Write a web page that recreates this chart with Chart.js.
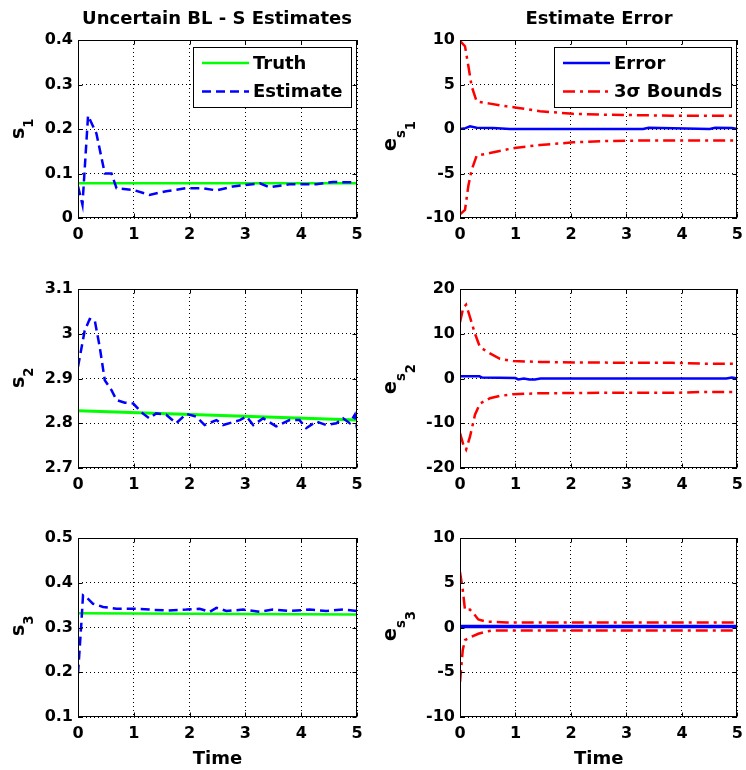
<!DOCTYPE html>
<html>
<head>
<meta charset="utf-8">
<script src="https://cdn.jsdelivr.net/npm/chart.js@4.4.1/dist/chart.umd.min.js"></script>
<style>
  body { margin: 0; background: #fff; }
  #fig { position: relative; width: 746px; height: 770px; overflow: hidden; font-family: "DejaVu Sans", sans-serif; font-weight: bold; color: #000; }
  canvas { position: absolute; }
  .ttl { position: absolute; font-size: 18px; white-space: nowrap; transform: translate(-50%, -50%); }
  .ylab { position: absolute; font-size: 19px; line-height: 19px; white-space: nowrap; transform-origin: 0 0; transform: rotate(-90deg); }
  .ylab sub { font-size: 0.7em; vertical-align: -0.7em; line-height: 0; }
  .ylab sub sub { font-size: 1em; vertical-align: -0.75em; }
</style>
</head>
<body>
<div id="fig">
  <canvas id="c1" width="373" height="250" style="left:0;top:0"></canvas>
  <canvas id="c2" width="377" height="250" style="left:373px;top:0"></canvas>
  <canvas id="c3" width="373" height="240" style="left:0;top:250px"></canvas>
  <canvas id="c4" width="377" height="240" style="left:373px;top:250px"></canvas>
  <canvas id="c5" width="373" height="280" style="left:0;top:490px"></canvas>
  <canvas id="c6" width="377" height="280" style="left:373px;top:490px"></canvas>

  <div class="ttl" style="left:217px;top:17px">Uncertain BL - S Estimates</div>
  <div class="ttl" style="left:599px;top:17px">Estimate Error</div>

  <div class="ylab" style="left:8px;top:139px">s<sub>1</sub></div>
  <div class="ylab" style="left:8px;top:388px">s<sub>2</sub></div>
  <div class="ylab" style="left:8px;top:636px">s<sub>3</sub></div>
  <div class="ylab" style="left:380px;top:151px">e<sub>s<sub>1</sub></sub></div>
  <div class="ylab" style="left:380px;top:394px">e<sub>s<sub>2</sub></sub></div>
  <div class="ylab" style="left:380px;top:641px">e<sub>s<sub>3</sub></sub></div>
</div>
<script>
// ---- values ----
const xTicks = [0, 1, 2, 3, 4, 5];
const s1Ticks = [0, 0.1, 0.2, 0.3, 0.4];
const s2Ticks = [2.7, 2.8, 2.9, 3, 3.1];
const s3Ticks = [0.1, 0.2, 0.3, 0.4, 0.5];
const e1Ticks = [-10, -5, 0, 5, 10];
const e2Ticks = [-20, -10, 0, 10, 20];
const e3Ticks = [-10, -5, 0, 5, 10];

// s1
const s1TruthT = [0, 5];
const s1Truth = [0.078, 0.078];
const s1EstT = [0, 0.08, 0.18, 0.33, 0.48, 0.6, 0.69, 0.99, 1.28, 1.58, 1.94, 2.24, 2.48, 2.78, 3.26, 3.43, 3.79, 4.27, 4.57, 5];
const s1Est = [0.071, 0.03, 0.23, 0.19, 0.10, 0.10, 0.067, 0.063, 0.052, 0.06, 0.067, 0.067, 0.062, 0.071, 0.078, 0.069, 0.076, 0.076, 0.081, 0.08];

// s2
const s2TruthT = [0, 5];
const s2Truth = [2.828, 2.807];
const s2EstT = [0, 0.12, 0.21, 0.3, 0.39, 0.48, 0.6, 0.69, 0.84, 0.99, 1.16, 1.28, 1.4, 1.58, 1.76, 1.94, 2.12, 2.27, 2.48, 2.6, 2.9, 3.02, 3.14, 3.32, 3.55, 3.79, 3.97, 4.09, 4.27, 4.45, 4.63, 4.75, 4.87, 4.96, 5];
const s2Est = [2.926, 3.007, 3.033, 3.03, 2.97, 2.896, 2.874, 2.852, 2.846, 2.844, 2.822, 2.811, 2.822, 2.819, 2.8, 2.821, 2.815, 2.796, 2.807, 2.796, 2.807, 2.815, 2.796, 2.811, 2.793, 2.807, 2.807, 2.789, 2.804, 2.796, 2.8, 2.811, 2.8, 2.819, 2.789];

// s3
const s3TruthT = [0, 5];
const s3Truth = [0.332, 0.329];
const s3EstT = [0, 0.06, 0.09, 0.15, 0.27, 0.45, 0.69, 0.99, 1.28, 1.58, 1.94, 2.18, 2.36, 2.48, 2.66, 2.96, 3.26, 3.49, 3.79, 4.15, 4.45, 4.75, 5];
const s3Est = [0.197, 0.309, 0.372, 0.368, 0.353, 0.346, 0.342, 0.342, 0.34, 0.338, 0.34, 0.342, 0.335, 0.344, 0.337, 0.34, 0.335, 0.34, 0.337, 0.34, 0.337, 0.34, 0.337];

// e_s1
const e1ErrT = [0, 0.1, 0.18, 0.3, 0.6, 0.9, 3.3, 3.4, 4.5, 4.6, 4.9, 5];
const e1Err = [0, 0.1, 0.3, 0.15, 0.1, 0, 0, 0.15, 0, 0.15, 0.1, 0];
const e1UpT = [0, 0.09, 0.15, 0.21, 0.3, 0.54, 0.84, 1.02, 1.44, 2.04, 2.63, 3.23, 3.83, 4.43, 5];
const e1Up = [9.9, 9.3, 7.1, 4.8, 3.1, 2.85, 2.55, 2.4, 2.0, 1.7, 1.6, 1.55, 1.5, 1.5, 1.5];
const e1LoT = [0, 0.09, 0.15, 0.21, 0.3, 0.54, 0.84, 1.02, 1.44, 2.04, 2.63, 3.23, 3.83, 4.43, 5];
const e1Lo = [-9.6, -9.1, -6.4, -4.6, -3.0, -2.7, -2.3, -2.1, -1.8, -1.5, -1.35, -1.3, -1.3, -1.3, -1.3];

// e_s2
const e2ErrT = [0, 0.35, 0.4, 1.0, 1.05, 1.15, 1.25, 1.35, 1.45, 4.8, 4.9, 5];
const e2Err = [0.5, 0.5, 0.2, 0.1, -0.2, 0, -0.2, -0.2, 0, 0, 0.2, 0];
const e2UpT = [0, 0.06, 0.11, 0.18, 0.27, 0.36, 0.54, 0.72, 0.96, 1.44, 2.04, 2.63, 3.23, 3.83, 4.43, 5];
const e2Up = [12.6, 15.9, 16.5, 13.7, 10, 7, 5.6, 4.4, 3.9, 3.7, 3.6, 3.55, 3.5, 3.5, 3.3, 3.3];
const e2LoT = [0, 0.06, 0.11, 0.18, 0.27, 0.36, 0.54, 0.72, 0.96, 1.44, 2.63, 3.83, 4.43, 5];
const e2Lo = [-12.2, -14.8, -15.9, -13, -8.1, -5.6, -4.4, -3.9, -3.5, -3.3, -3.2, -3.2, -3.0, -3.0];

// e_s3
const e3ErrT = [0, 5];
const e3Err = [0.1, 0.1];
const e3UpT = [0, 0.05, 0.09, 0.18, 0.24, 0.33, 0.48, 0.84, 5];
const e3Up = [6.2, 4.2, 1.95, 2.0, 1.6, 0.9, 0.65, 0.57, 0.57];
const e3LoT = [0, 0.05, 0.09, 0.15, 0.33, 0.48, 0.6, 1, 5];
const e3Lo = [-6.1, -2.5, -1.4, -1.2, -0.7, -0.45, -0.33, -0.33, -0.33];

// ---- styling / helpers ----
const FONT = '"DejaVu Sans", sans-serif';
const GREEN = '#00ff00', BLUE = '#0000ff', RED = '#ff0000';
const DASH = [9, 5];
const DASHDOT = [12, 5, 3, 5];

const pts = (t, v) => t.map((x, i) => ({ x: x, y: v[i] }));

function line(label, t, v, color, width, dash, order) {
  return { label: label, data: pts(t, v), borderColor: color, borderWidth: width,
           borderDash: dash || [], order: order || 0, pointRadius: 0, tension: 0, fill: false };
}

// black box around the axes, with short inward ticks like matlab
const frame = {
  id: 'frame',
  afterDraw(chart) {
    const { ctx, chartArea: a, scales } = chart;
    const L = Math.round(a.left) + 0.5, T = Math.round(a.top) + 0.5;
    const R = Math.round(a.right) - 0.5, B = Math.round(a.bottom) - 0.5;
    ctx.save();
    ctx.strokeStyle = '#000';
    ctx.lineWidth = 1;
    ctx.setLineDash([]);
    ctx.strokeRect(L, T, R - L, B - T);
    ctx.beginPath();
    scales.x.ticks.forEach(tk => {
      const px = Math.round(scales.x.getPixelForValue(tk.value)) + 0.5;
      ctx.moveTo(px, B); ctx.lineTo(px, B - 4);
      ctx.moveTo(px, T); ctx.lineTo(px, T + 4);
    });
    scales.y.ticks.forEach(tk => {
      const py = Math.round(scales.y.getPixelForValue(tk.value)) + 0.5;
      ctx.moveTo(L, py); ctx.lineTo(L + 4, py);
      ctx.moveTo(R, py); ctx.lineTo(R - 4, py);
    });
    ctx.stroke();
    ctx.restore();
  }
};

// matlab style legend box in the upper right corner
const boxLegend = {
  id: 'boxLegend',
  afterDraw(chart, args, opts) {
    if (!opts.show) return;
    const { ctx, chartArea: a } = chart;
    const items = chart.data.datasets.filter(d => d.label);
    ctx.save();
    ctx.font = 'bold 18px ' + FONT;
    const tw = Math.max(...items.map(d => ctx.measureText(d.label).width));
    const w = Math.round(9 + 47 + 4 + tw + 9), h = 60;
    const x0 = Math.round(a.right - 6 - w), y0 = Math.round(a.top + 7);
    ctx.fillStyle = '#fff';
    ctx.fillRect(x0, y0, w, h);
    ctx.strokeStyle = '#000';
    ctx.lineWidth = 1;
    ctx.strokeRect(x0 + 0.5, y0 + 0.5, w, h);
    items.forEach((d, i) => {
      const y = y0 + 16 + i * 28.5;
      ctx.strokeStyle = d.borderColor;
      ctx.lineWidth = d.borderWidth;
      ctx.setLineDash(d.borderDash);
      ctx.beginPath();
      ctx.moveTo(x0 + 9, y);
      ctx.lineTo(x0 + 56, y);
      ctx.stroke();
      ctx.setLineDash([]);
      ctx.fillStyle = '#000';
      ctx.textBaseline = 'middle';
      ctx.fillText(d.label, x0 + 60, y + 1);
    });
    ctx.restore();
  }
};

const tickFont = { family: FONT, size: 16, weight: 'bold' };

function makeChart(id, c) {
  return new Chart(document.getElementById(id), {
    type: 'line',
    data: { datasets: c.datasets },
    options: {
      responsive: false,
      animation: false,
      layout: { padding: { top: c.top, right: c.right, left: 0, bottom: 0 } },
      plugins: { legend: { display: false }, tooltip: { enabled: false }, boxLegend: { show: c.legend } },
      scales: {
        x: {
          type: 'linear', min: 0, max: 5,
          afterBuildTicks: s => { s.ticks = xTicks.map(v => ({ value: v })); },
          afterFit: s => { s.height = c.xh; },
          ticks: { font: tickFont, color: '#000', padding: 7, maxRotation: 0, callback: v => String(v) },
          grid: { color: '#000', lineWidth: 1, drawTicks: false },
          border: { display: false, dash: [1, 3] },
          title: { display: !!c.xTitle, text: c.xTitle || '', color: '#000',
                   font: { family: FONT, size: 18, weight: 'bold' }, padding: { top: -2, bottom: 0 } }
        },
        y: {
          type: 'linear', min: c.yTicks[0], max: c.yTicks[c.yTicks.length - 1],
          afterBuildTicks: s => { s.ticks = c.yTicks.map(v => ({ value: v })); },
          afterFit: s => { s.width = c.yw; },
          ticks: { font: tickFont, color: '#000', padding: 5, callback: v => String(v) },
          grid: { color: '#000', lineWidth: 1, drawTicks: false },
          border: { display: false, dash: [1, 3] }
        }
      }
    },
    plugins: [frame, boxLegend]
  });
}

makeChart('c1', { top: 40, right: 16, xh: 32, yw: 78, yTicks: s1Ticks, legend: true, datasets: [
  line('Truth', s1TruthT, s1Truth, GREEN, 2.5, null, 2),
  line('Estimate', s1EstT, s1Est, BLUE, 2.5, DASH, 1)
]});
makeChart('c3', { top: 39, right: 16, xh: 22, yw: 78, yTicks: s2Ticks, legend: false, datasets: [
  line('Truth', s2TruthT, s2Truth, GREEN, 3, null, 2),
  line('Estimate', s2EstT, s2Est, BLUE, 2.5, DASH, 1)
]});
makeChart('c5', { top: 48, right: 16, xh: 53, yw: 78, yTicks: s3Ticks, legend: false, xTitle: 'Time', datasets: [
  line('Truth', s3TruthT, s3Truth, GREEN, 2.5, null, 2),
  line('Estimate', s3EstT, s3Est, BLUE, 2.5, DASH, 1)
]});
makeChart('c2', { top: 40, right: 11, xh: 32, yw: 87, yTicks: e1Ticks, legend: true, datasets: [
  line('Error', e1ErrT, e1Err, BLUE, 2.5, null, 1),
  line('3\u03c3 Bounds', e1UpT, e1Up, RED, 2.5, DASHDOT, 2),
  line('', e1LoT, e1Lo, RED, 2.5, DASHDOT, 2)
]});
makeChart('c4', { top: 39, right: 11, xh: 22, yw: 87, yTicks: e2Ticks, legend: false, datasets: [
  line('Error', e2ErrT, e2Err, BLUE, 2.5, null, 1),
  line('3\u03c3 Bounds', e2UpT, e2Up, RED, 2.5, DASHDOT, 2),
  line('', e2LoT, e2Lo, RED, 2.5, DASHDOT, 2)
]});
makeChart('c6', { top: 48, right: 11, xh: 53, yw: 87, yTicks: e3Ticks, legend: false, xTitle: 'Time', datasets: [
  line('Error', e3ErrT, e3Err, BLUE, 3.5, null, 1),
  line('3\u03c3 Bounds', e3UpT, e3Up, RED, 2.5, DASHDOT, 2),
  line('', e3LoT, e3Lo, RED, 2.5, DASHDOT, 2)
]});
</script>
</body>
</html>
